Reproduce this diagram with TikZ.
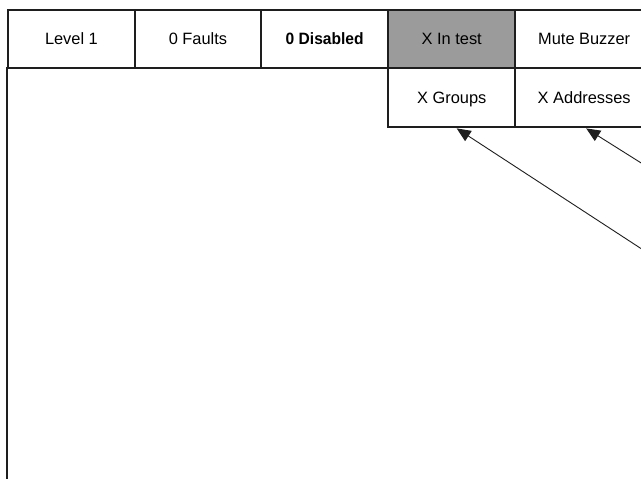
\documentclass[tikz,border=0pt]{standalone}
\usepackage{fontspec}
\setmainfont{Liberation Sans}
\usetikzlibrary{arrows.meta}
\definecolor{frameink}{RGB}{30,30,30}
\definecolor{cellgray}{RGB}{155,155,155}
\tikzset{
  cell/.style={draw=frameink, line width=2.4pt, rectangle, inner sep=0pt,
    anchor=north west, minimum height=58pt, text height=11.8pt, text depth=1.2pt,
    font=\fontsize{16.4}{19}\selectfont},
  pointer/.style={draw=frameink, line width=0.9pt,
    -{Triangle[length=14pt,width=12pt]}}
}
\begin{document}
\begin{tikzpicture}[x=1pt,y=-1pt]
  \useasboundingbox (0,0) rectangle (641,479);
  \fill[white] (0,0) rectangle (641,479);
  \clip (0,0) rectangle (641,479);

  % left edge of the display frame
  \draw[frameink, line width=2.4pt] (7,67) -- (7,490);

  % status bar
  \node[cell, minimum width=126.5pt] (level) at (7,9) {Level 1};
  \node[cell, minimum width=126.5pt] (faults) at (133.5,9) {0 Faults};
  \node[cell, minimum width=127pt] (disabled) at (260,9)
    {\scalebox{0.95}[1]{\bfseries 0 Disabled}};
  \node[cell, minimum width=127pt, fill=cellgray] (intest) at (387,9) {X In test};
  \node[cell, minimum width=138pt] (mute) at (514,9) {Mute Buzzer};

  % test detail row
  \node[cell, minimum width=127pt, minimum height=59pt] (groups) at (387,67) {X Groups};
  \node[cell, minimum width=138pt, minimum height=59pt] (addr) at (514,67) {X Addresses};

  % callout pointers
  \coordinate (srcA) at (700,287);
  \coordinate (srcB) at (700,200);
  \draw[pointer] (srcA) -- ([xshift=5pt]groups.south);
  \draw[pointer] (srcB) -- ([xshift=2pt]addr.south);
\end{tikzpicture}
\end{document}
